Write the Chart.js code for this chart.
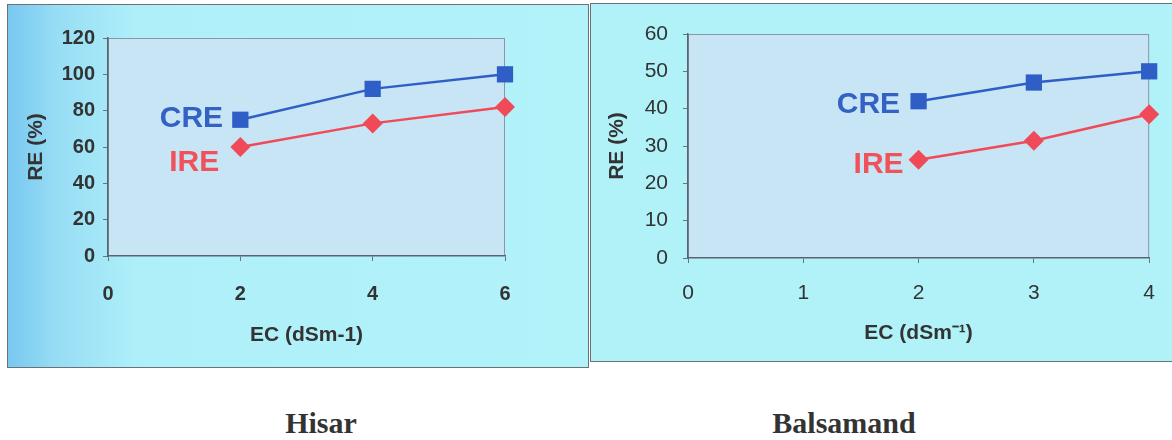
<!DOCTYPE html>
<html lang="en">
<head>
    <meta charset="UTF-8">
    <title>RE vs EC</title>
    <script src="https://cdn.jsdelivr.net/npm/chart.js"></script>
    <style>
        body {
            margin: 0;
            width: 1172px;
            height: 440px;
            background: #fff;
            position: relative;
            overflow: hidden;
        }
        .panel {
            position: absolute;
            box-sizing: border-box;
        }
        #hisarPanel {
            left: 7px; top: 4px; width: 582px; height: 364px;
            border: 1px solid #6a7278;
            background: linear-gradient(to right, #78c8f0 0%, #96dcf4 8%, #aeeff9 22%, #b2f3fa 100%);
        }
        #balsPanel {
            left: 590px; top: 3px; width: 584px; height: 359px;
            border: 1px solid #6a7278;
            background: #b0f2f8;
        }
        canvas { position: absolute; left: 0; top: 0; }
        .site {
            position: absolute;
            top: 406px;
            font-family: "Liberation Serif", "Times New Roman", serif;
            font-weight: bold;
            font-size: 30px;
            color: #333;
            transform: translateX(-50%);
        }
    </style>
</head>
<body>
    <div class="panel" id="hisarPanel"><canvas id="hisarChart" width="580" height="362"></canvas></div>
    <div class="panel" id="balsPanel"><canvas id="balsChart" width="582" height="357"></canvas></div>
    <div class="site" style="left:321px">Hisar</div>
    <div class="site" style="left:844px">Balsamand</div>
    <script>
        // Hisar
        const hisarEC = [2, 4, 6];
        const hisarCRE = [75, 92, 100];
        const hisarIRE = [60, 73, 82];
        // Balsamand
        const balsEC = [2, 3, 4];
        const balsCRE = [42, 47, 50];
        const balsIRE = [26.3, 31.4, 38.5];

        const blue = '#2f5fc6';
        const red = '#f04a58';

        function pts(xs, ys) {
            return xs.map((x, i) => ({ x: x, y: ys[i] }));
        }

        // plot area fill + frame, and the CRE / IRE tags next to the lines
        const plotDeco = {
            id: 'plotDeco',
            beforeDraw(chart) {
                const a = chart.chartArea;
                const ctx = chart.ctx;
                ctx.save();
                ctx.fillStyle = '#c7e5f5';
                ctx.fillRect(a.left, a.top, a.right - a.left, a.bottom - a.top);
                ctx.strokeStyle = '#8a96a8';
                ctx.lineWidth = 1;
                ctx.strokeRect(a.left + 0.5, a.top + 0.5, a.right - a.left - 1, a.bottom - a.top - 1);
                ctx.restore();
            },
            afterDatasetsDraw(chart, args, opts) {
                const ctx = chart.ctx;
                const xs = chart.scales.x, ys = chart.scales.y;
                ctx.save();
                ctx.font = 'bold 30px "Liberation Sans", Arial, sans-serif';
                ctx.textAlign = 'right';
                ctx.textBaseline = 'middle';
                opts.tags.forEach(t => {
                    ctx.fillStyle = t.color;
                    ctx.fillText(t.text, xs.getPixelForValue(t.x), ys.getPixelForValue(t.y));
                });
                ctx.restore();
            }
        };

        function makeChart(id, cfg) {
            const tickFont = { family: '"Liberation Sans", Arial, sans-serif', size: cfg.tickSize, weight: cfg.tickWeight };
            const titleFont = { family: '"Liberation Sans", Arial, sans-serif', size: 21, weight: 'bold', lineHeight: 1 };
            return new Chart(document.getElementById(id).getContext('2d'), {
                type: 'line',
                data: {
                    datasets: [
                        {
                            label: 'CRE',
                            data: pts(cfg.ec, cfg.cre),
                            borderColor: blue,
                            backgroundColor: blue,
                            borderWidth: 2.5,
                            pointStyle: 'rect',
                            pointRadius: 11.5,
                            pointBorderWidth: 0,
                            clip: false
                        },
                        {
                            label: 'IRE',
                            data: pts(cfg.ec, cfg.ire),
                            borderColor: red,
                            backgroundColor: red,
                            borderWidth: 2.5,
                            pointStyle: 'rectRot',
                            pointRadius: 10,
                            pointBorderWidth: 0,
                            clip: false
                        }
                    ]
                },
                options: {
                    responsive: false,
                    animation: false,
                    devicePixelRatio: 1,
                    layout: { padding: cfg.pad },
                    plugins: {
                        legend: { display: false },
                        tooltip: { enabled: false },
                        plotDeco: { tags: cfg.tags }
                    },
                    scales: {
                        x: {
                            type: 'linear',
                            min: cfg.xMin, max: cfg.xMax,
                            ticks: { stepSize: cfg.xStep, font: tickFont, color: '#333', padding: cfg.xTickPad, maxRotation: 0 },
                            grid: { drawOnChartArea: false, drawTicks: true, tickLength: 5, color: '#6a7480' },
                            border: { color: '#5a6470', width: 1.5 },
                            title: { display: true, text: cfg.xTitle, font: titleFont, color: '#333', padding: { top: 0, bottom: cfg.xTitlePad } },
                            afterFit(s) { s.height = cfg.xHeight; }
                        },
                        y: {
                            min: 0, max: cfg.yMax,
                            ticks: { stepSize: cfg.yStep, font: tickFont, color: '#333', padding: cfg.yTickPad },
                            grid: { drawOnChartArea: false, drawTicks: true, tickLength: 5, color: '#6a7480' },
                            border: { color: '#5a6470', width: 1.5 },
                            title: { display: true, text: 'RE (%)', font: titleFont, color: '#333', padding: { top: cfg.yTitlePad, bottom: 0 } },
                            afterFit(s) { s.width = cfg.yWidth; }
                        }
                    }
                },
                plugins: [plotDeco]
            });
        }

        makeChart('hisarChart', {
            ec: hisarEC, cre: hisarCRE, ire: hisarIRE,
            xMin: 0, xMax: 6, xStep: 2, yMax: 120, yStep: 20,
            tickSize: 20, tickWeight: 'bold',
            xTitle: 'EC (dSm-1)',
            pad: { left: 0, top: 33, right: 83, bottom: 0 },
            yWidth: 100, xHeight: 111,
            xTickPad: 21, yTickPad: 8, xTitlePad: 21.5, yTitlePad: 17.5,
            tags: [
                { text: 'CRE', x: 1.74, y: 75.4, color: '#3462c4' },
                { text: 'IRE', x: 1.68, y: 51.2, color: '#f0525c' }
            ]
        });

        makeChart('balsChart', {
            ec: balsEC, cre: balsCRE, ire: balsIRE,
            xMin: 0, xMax: 4, xStep: 1, yMax: 60, yStep: 10,
            tickSize: 21, tickWeight: 'normal',
            xTitle: 'EC (dSm\u207B\u00B9)',
            pad: { left: 0, top: 30, right: 12, bottom: 0 },
            yWidth: 97, xHeight: 103,
            xTickPad: 18, yTickPad: 15, xTitlePad: 17.5, yTitlePad: 15.5,
            tags: [
                { text: 'CRE', x: 1.84, y: 41, color: '#3462c4' },
                { text: 'IRE', x: 1.87, y: 24.9, color: '#f0525c' }
            ]
        });
    </script>
</body>
</html>
